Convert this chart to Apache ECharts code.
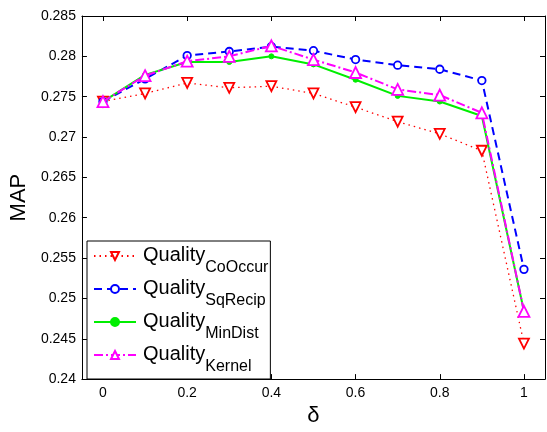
<!DOCTYPE html>
<html><head><meta charset="utf-8">
<script src="https://cdn.jsdelivr.net/npm/echarts@6/dist/echarts.min.js"></script>
<style>html,body{margin:0;padding:0;background:#fff}#c{width:547px;height:432px}</style>
</head><body><div id="c"></div>
<script>
const deltas = [0, 0.1, 0.2, 0.3, 0.4, 0.5, 0.6, 0.7, 0.8, 0.9, 1.0];
const coOccur = [0.2744, 0.2754, 0.2767, 0.2761, 0.2763, 0.2754, 0.2737, 0.2719, 0.2704, 0.2683, 0.2444];
const sqRecip = [0.2744, 0.2772, 0.2801, 0.2806, 0.2812, 0.2807, 0.2796, 0.2789, 0.2784, 0.2770, 0.2536];
const minDist = [0.2744, 0.2777, 0.2793, 0.2793, 0.2800, 0.2790, 0.2771, 0.2751, 0.2744, 0.2726, 0.2484];
const kernel  = [0.2744, 0.2776, 0.2794, 0.2800, 0.2813, 0.2796, 0.2780, 0.2759, 0.2752, 0.2730, 0.2484];
const xTicks = [0, 0.2, 0.4, 0.6, 0.8, 1];
const seriesNames = ['CoOccur', 'SqRecip', 'MinDist', 'Kernel'];

const pair = arr => deltas.map((d, i) => [d, arr[i]]);
const FONT = 'Liberation Sans';
const chart = echarts.init(document.getElementById('c'), null, {renderer: 'canvas'});

const baseX = {
  type: 'value', min: -0.05, max: 1.05,
  axisLine: {show: true, onZero: false, lineStyle: {color: '#000', width: 1}},
  splitLine: {show: false},
  axisTick: {show: true, inside: true, length: 5, customValues: xTicks, lineStyle: {color: '#000'}},
  axisLabel: {show: true, customValues: xTicks, margin: 7, color: '#000', fontSize: 14, fontFamily: FONT,
    formatter: v => String(+v.toFixed(2))}
};
const baseY = {
  type: 'value', min: 0.24, max: 0.285, interval: 0.005,
  axisLine: {show: true, onZero: false, lineStyle: {color: '#000', width: 1}},
  splitLine: {show: false},
  axisTick: {show: true, inside: true, length: 5, lineStyle: {color: '#000'}},
  axisLabel: {show: true, margin: 6, color: '#000', fontSize: 14, fontFamily: FONT,
    formatter: v => String(+v.toFixed(3))}
};

chart.setOption({
  animation: false,
  backgroundColor: '#fff',
  grid: {left: 80, right: 2, top: 16, bottom: 47},
  xAxis: [
    Object.assign({}, baseX, {position: 'bottom', name: 'δ', nameLocation: 'middle', nameGap: 20,
      nameTextStyle: {fontSize: 22, color: '#000', fontFamily: FONT}}),
    Object.assign({}, baseX, {position: 'top', axisLabel: {show: false}})
  ],
  yAxis: [
    Object.assign({}, baseY, {position: 'left', name: 'MAP', nameLocation: 'middle', nameGap: 48, nameRotate: 90,
      nameTextStyle: {fontSize: 22, color: '#000', fontFamily: FONT}}),
    Object.assign({}, baseY, {position: 'right', axisLabel: {show: false}})
  ],
  legend: {
    orient: 'vertical', left: 87, top: 241,
    backgroundColor: '#fff', borderColor: '#000', borderWidth: 1,
    padding: [4, 2, 4, 6], itemGap: 2, itemWidth: 42, itemHeight: 10,
    data: seriesNames,
    formatter: n => '{a|Quality}{b|' + n + '}',
    textStyle: {
      color: '#000', fontFamily: FONT, padding: [0, 0, 0, 2],
      rich: {
        a: {fontSize: 20, lineHeight: 22, verticalAlign: 'top', fontFamily: FONT, color: '#000'},
        b: {fontSize: 16, lineHeight: 16, padding: [15, 0, 0, 0], verticalAlign: 'top', fontFamily: FONT, color: '#000'}
      }
    }
  },
  series: [
    {name: 'CoOccur', type: 'line', data: pair(coOccur), symbol: 'triangle', symbolRotate: 180, symbolSize: 10,
      lineStyle: {color: '#ff0000', width: 1.3, type: [1.5, 4]},
      itemStyle: {color: '#fff', borderColor: '#ff0000', borderWidth: 1.8}, z: 2},
    {name: 'SqRecip', type: 'line', data: pair(sqRecip), symbol: 'circle', symbolSize: 7.5,
      lineStyle: {color: '#0000ff', width: 2, type: [8, 5]},
      itemStyle: {color: '#fff', borderColor: '#0000ff', borderWidth: 1.8}, z: 3},
    {name: 'MinDist', type: 'line', data: pair(minDist), symbol: 'circle', symbolSize: 5,
      lineStyle: {color: '#00ee00', width: 2, type: 'solid'},
      itemStyle: {color: '#00ee00', borderColor: '#00ee00', borderWidth: 1}, z: 4},
    {name: 'Kernel', type: 'line', data: pair(kernel), symbol: 'triangle', symbolSize: 11,
      lineStyle: {color: '#ff00ff', width: 2, type: [9, 3, 2, 3]},
      itemStyle: {color: '#fff', borderColor: '#ff00ff', borderWidth: 1.8}, z: 5}
  ]
});
</script></body></html>
